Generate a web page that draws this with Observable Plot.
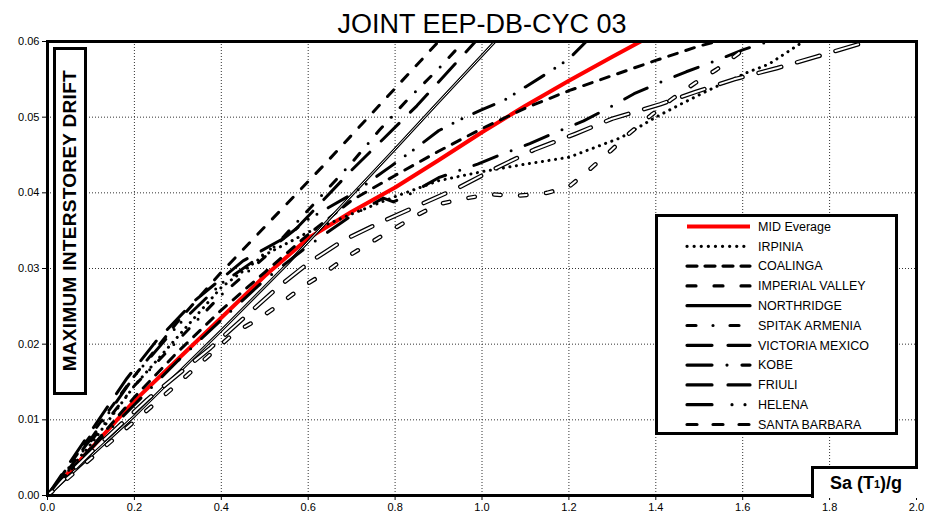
<!DOCTYPE html>
<html><head><meta charset="utf-8">
<script src="https://cdn.jsdelivr.net/npm/d3@7"></script>
<script src="https://cdn.jsdelivr.net/npm/@observablehq/plot@0.6"></script>
<style>
body{margin:0;background:#fff;font-family:Arial,"Liberation Sans",sans-serif;}
#wrap{position:relative;width:930px;height:520px;overflow:hidden;}
#ylab{position:absolute;left:53px;top:47px;width:28px;height:342px;border:3px solid #000;background:#fff;display:flex;align-items:center;justify-content:center;}
#ylab span{writing-mode:vertical-rl;transform:rotate(180deg);font-weight:bold;font-size:19px;white-space:nowrap;letter-spacing:0.3px;}
#xlab{position:absolute;left:811px;top:466px;width:104px;height:29px;border-left:3px solid #000;border-top:3px solid #000;background:#fff;display:flex;align-items:center;justify-content:center;font-weight:bold;font-size:18px;}
#legend{position:absolute;left:655px;top:214px;}
</style></head><body><div id="wrap"></div>
<script>
const title = "JOINT EEP-DB-CYC 03";
const xTicks = [0, 0.2, 0.4, 0.6, 0.8, 1.0, 1.2, 1.4, 1.6, 1.8, 2.0];
const yTicks = [0, 0.01, 0.02, 0.03, 0.04, 0.05, 0.06];
const seriesNames = ["MID Everage","IRPINIA","COALINGA","IMPERIAL VALLEY","NORTHRIDGE","SPITAK ARMENIA","VICTORIA MEXICO","KOBE","FRIULI","HELENA","SANTA BARBARA"];

// [Sa(T1)/g, max interstorey drift]
const midEverage = [[0,0],[0.1,0.0062],[0.2,0.0125],[0.3,0.018],[0.4,0.0235],[0.5,0.029],[0.6,0.034],[0.7,0.0375],[0.8,0.0407],[0.9,0.0443],[1.0,0.048],[1.1,0.0515],[1.2,0.0548],[1.3,0.058],[1.365,0.06]];
const irpinia = [[0,0],[0.1,0.0068],[0.2,0.0145],[0.3,0.021],[0.4,0.0275],[0.5,0.0318],[0.6,0.0348],[0.7,0.0372],[0.8,0.0395],[0.9,0.0416],[1.0,0.0428],[1.1,0.0438],[1.2,0.0447],[1.26,0.046],[1.32,0.0473],[1.4,0.05],[1.46,0.0518],[1.53,0.0538],[1.61,0.0559],[1.66,0.057],[1.74,0.06]];
const coalinga = [[0,0],[0.1,0.0063],[0.2,0.013],[0.3,0.019],[0.4,0.0245],[0.5,0.0295],[0.6,0.0345],[0.7,0.039],[0.8,0.0423],[0.9,0.0455],[1.0,0.0485],[1.1,0.0512],[1.2,0.0535],[1.3,0.0555],[1.4,0.0575],[1.5,0.0594],[1.54,0.06]];
const imperialValley = [[0,0],[0.1,0.008],[0.2,0.0158],[0.3,0.023],[0.4,0.0295],[0.47,0.0337],[0.635,0.0436],[0.9,0.06]];
const northridge = [[0,0],[0.2,0.0105],[0.276,0.0148],[0.4,0.0218],[0.552,0.0306],[0.674,0.0381],[0.8,0.0458],[0.9,0.052],[1.03,0.06]];
const spitakArmenia = [[0,0],[0.1,0.0072],[0.2,0.0145],[0.3,0.0205],[0.4,0.0265],[0.5,0.0315],[0.635,0.0399],[0.702,0.0441],[0.764,0.0483],[0.83,0.0524],[0.9,0.0564],[0.958,0.06]];
const victoriaMexico = [[0,0],[0.1,0.0085],[0.183,0.0155],[0.25,0.0204],[0.34,0.0258],[0.45,0.031],[0.56,0.0345],[0.7,0.043],[0.85,0.0515],[0.985,0.06]];
const kobe = [[0,0],[0.1,0.0062],[0.2,0.012],[0.3,0.0178],[0.4,0.0232],[0.5,0.0285],[0.6,0.033],[0.7,0.037],[0.773,0.0393],[0.796,0.0388],[0.83,0.0397],[0.9,0.042],[0.99,0.0438],[1.05,0.0452],[1.11,0.0465],[1.17,0.048],[1.234,0.0495],[1.3,0.0515],[1.35,0.0531],[1.41,0.0546],[1.47,0.056],[1.54,0.0575],[1.6,0.0589],[1.66,0.06]];
const friuli = [[0,0],[0.1,0.0057],[0.23,0.0127],[0.375,0.0195],[0.53,0.0275],[0.6,0.0307],[0.68,0.0337],[0.77,0.0362],[0.86,0.0385],[0.95,0.0408],[1.03,0.0432],[1.12,0.0457],[1.215,0.0478],[1.3,0.0498],[1.41,0.0517],[1.49,0.0533],[1.58,0.055],[1.68,0.0565],[1.77,0.058],[1.87,0.0597],[1.9,0.06]];
const helena = [[0,0],[0.1,0.0075],[0.2,0.0158],[0.3,0.0225],[0.4,0.028],[0.5,0.032],[0.6,0.0365],[0.7,0.0398],[0.79,0.0435],[0.85,0.046],[0.9,0.0482],[0.95,0.0497],[1.0,0.051],[1.05,0.0522],[1.1,0.054],[1.15,0.0558],[1.2,0.0577],[1.24,0.06]];
const santaBarbara = [[0,0],[0.2,0.0098],[0.3,0.0148],[0.43,0.0215],[0.485,0.0233],[0.535,0.0253],[0.585,0.0275],[0.635,0.0293],[0.685,0.0314],[0.74,0.0333],[0.79,0.035],[0.845,0.0369],[0.9,0.0385],[0.965,0.0393],[1.02,0.0398],[1.08,0.0396],[1.15,0.04],[1.2,0.0408],[1.25,0.0432],[1.295,0.0455],[1.34,0.0479],[1.39,0.0503],[1.435,0.0523],[1.49,0.0545],[1.54,0.0563],[1.59,0.0584],[1.62,0.06]];

const seriesData = [midEverage, irpinia, coalinga, imperialValley, northridge, spitakArmenia, victoriaMexico, kobe, friuli, helena, santaBarbara];

// styles (plot line / legend sample)
const styles = {
  "MID Everage":    {stroke:"#ff0000", w:4, dash:null, legDash:null},
  "IRPINIA":        {stroke:"#000", w:3, dash:"0.1,6.5", legDash:"0.1,7"},
  "COALINGA":       {stroke:"#000", w:3, dash:"9,9", legDash:"10,8"},
  "IMPERIAL VALLEY":{stroke:"#000", w:3, dash:"9,12", legDash:"9,18"},
  "NORTHRIDGE":     {stroke:"#000", w:3, dash:null, legDash:null, inner:1},
  "SPITAK ARMENIA": {stroke:"#000", w:3, dash:"9,13,0,13", legDash:"9,17,0,17"},
  "VICTORIA MEXICO":{stroke:"#000", w:3, dash:"25,16", legDash:"25,16"},
  "KOBE":           {stroke:"#000", w:3, dash:"25,15,0,15", legDash:"25,15,0,15"},
  "FRIULI":         {stroke:"#000", w:4.5, dash:"23.5,16.5", legDash:"25,16", inner:2},
  "HELENA":         {stroke:"#000", w:3, dash:"22,13,0,10,0,13", legDash:"25,20,0,13,0,20"},
  "SANTA BARBARA":  {stroke:"#000", w:4.5, dash:"6.5,19.5", legDash:"10,16", inner:2}
};

const marks = [
  Plot.gridX(xTicks, {stroke:"#333", strokeOpacity:1, strokeDasharray:"1,2", strokeWidth:1}),
  Plot.gridY(yTicks, {stroke:"#333", strokeOpacity:1, strokeDasharray:"1,2", strokeWidth:1}),
];
seriesNames.forEach((name, i) => {
  const s = styles[name];
  const opts = {x: d => d[0], y: d => d[1], stroke: s.stroke, strokeWidth: s.w, strokeLinecap: "round", strokeLinejoin:"round", clip: true};
  if (s.dash) opts.strokeDasharray = s.dash;
  marks.push(Plot.line(seriesData[i], opts));
  if (s.inner) {
    marks.push(Plot.line(seriesData[i], {...opts, stroke: "#fff", strokeWidth: s.inner}));
  }
});
marks.push(
  Plot.axisX(xTicks, {tickSize:5, tickPadding:3, tickFormat: d3.format(".1f"), fontSize:11}),
  Plot.axisY(yTicks, {tickSize:5, tickPadding:3, tickFormat: d3.format(".2f"), fontSize:11}),
  Plot.frame({stroke:"#000", strokeWidth:3}),
  Plot.text([title], {frameAnchor:"top", dy:-9, lineAnchor:"bottom", fontSize:27, fill:"#000"})
);

const chart = Plot.plot({
  width: 930, height: 520,
  marginLeft: 47, marginRight: 14, marginTop: 41, marginBottom: 25,
  x: {domain:[0,2]},
  y: {domain:[0,0.06]},
  style: {fontFamily: "Arial, 'Liberation Sans', sans-serif", fontSize:"11px", color:"#000", background:"#fff"},
  marks
});
const wrap = document.getElementById("wrap");
wrap.appendChild(chart);

// y label box
const yl = document.createElement("div"); yl.id = "ylab";
yl.innerHTML = "<span>MAXIMUM INTERSTOREY DRIFT</span>";
wrap.appendChild(yl);
// x label box
const xl = document.createElement("div"); xl.id = "xlab";
xl.innerHTML = "Sa (T<sub style='font-size:11px'>1</sub>)/g";
wrap.appendChild(xl);

// legend
const lw = 243, lh = 221;
const leg = d3.select(wrap).append("svg").attr("id","legend").attr("width", lw).attr("height", lh);
leg.append("rect").attr("x",1.5).attr("y",1.5).attr("width",lw-3).attr("height",lh-3).attr("fill","#fff").attr("stroke","#000").attr("stroke-width",3);
seriesNames.forEach((name, i) => {
  const s = styles[name];
  const y = 12.5 + i * 19.8;
  leg.append("line").attr("x1",32).attr("x2",95).attr("y1",y).attr("y2",y)
    .attr("stroke", s.stroke).attr("stroke-width", name === "MID Everage" ? 4 : 3.2)
    .attr("stroke-linecap", name === "MID Everage" ? "butt" : "round")
    .attr("stroke-dasharray", s.legDash);
  leg.append("text").attr("x",103).attr("y",y).attr("dy","0.35em")
    .attr("font-size",12.5).attr("font-family","Arial, 'Liberation Sans', sans-serif").text(name);
});
</script></body></html>
